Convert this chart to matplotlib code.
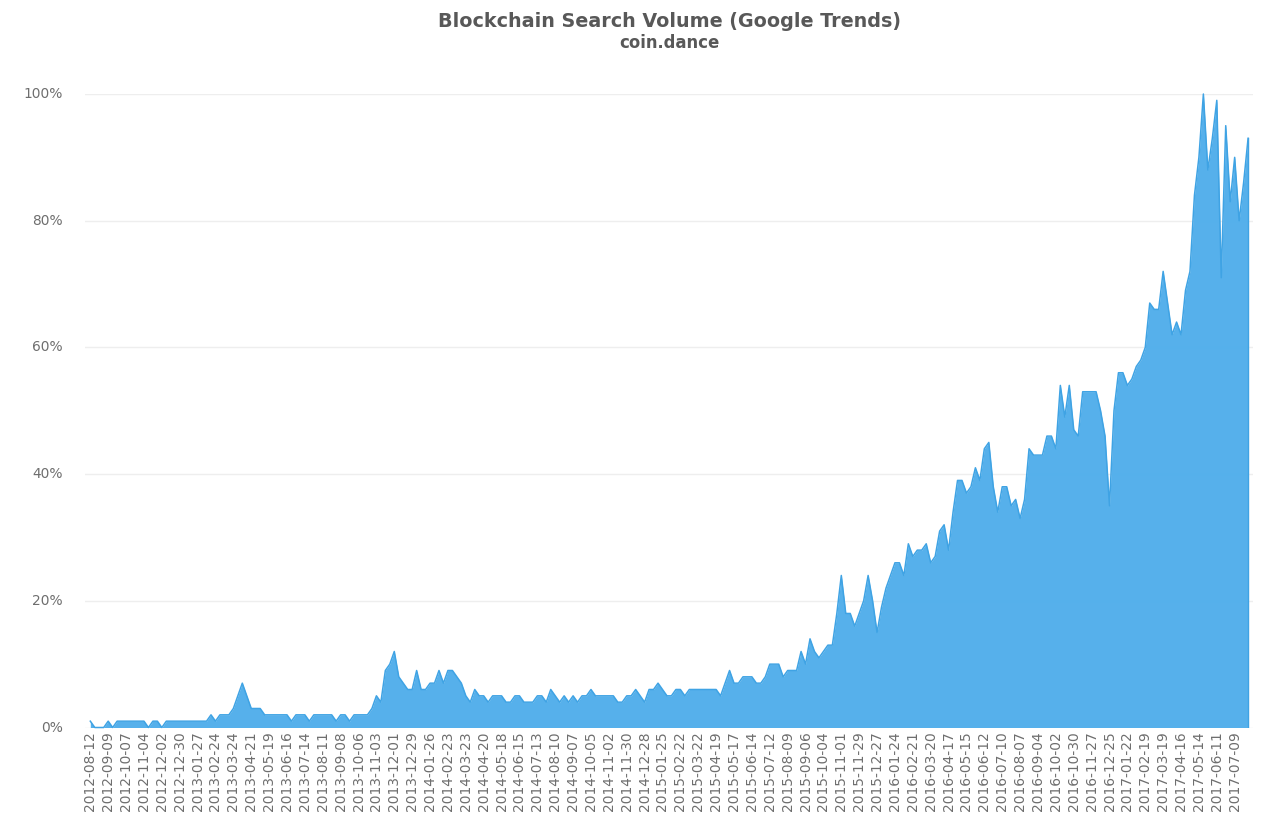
#!/usr/bin/env python3
"""Blockchain search volume (Google Trends), weekly, from coin.dance."""
import matplotlib
matplotlib.use("Agg")
import matplotlib.pyplot as plt
import numpy as np

TICK_LABELS = [
    "2012-08-12", "2012-09-09", "2012-10-07", "2012-11-04", "2012-12-02", "2012-12-30", "2013-01-27",
    "2013-02-24", "2013-03-24", "2013-04-21", "2013-05-19", "2013-06-16", "2013-07-14", "2013-08-11",
    "2013-09-08", "2013-10-06", "2013-11-03", "2013-12-01", "2013-12-29", "2014-01-26", "2014-02-23",
    "2014-03-23", "2014-04-20", "2014-05-18", "2014-06-15", "2014-07-13", "2014-08-10", "2014-09-07",
    "2014-10-05", "2014-11-02", "2014-11-30", "2014-12-28", "2015-01-25", "2015-02-22", "2015-03-22",
    "2015-04-19", "2015-05-17", "2015-06-14", "2015-07-12", "2015-08-09", "2015-09-06", "2015-10-04",
    "2015-11-01", "2015-11-29", "2015-12-27", "2016-01-24", "2016-02-21", "2016-03-20", "2016-04-17",
    "2016-05-15", "2016-06-12", "2016-07-10", "2016-08-07", "2016-09-04", "2016-10-02", "2016-10-30",
    "2016-11-27", "2016-12-25", "2017-01-22", "2017-02-19", "2017-03-19", "2017-04-16", "2017-05-14",
    "2017-06-11", "2017-07-09",
]
WEEKS_PER_TICK = 4

# weekly values, % of peak
VOLUME = [
    1, 0, 0, 0, 1, 0, 1, 1, 1, 1,
    1, 1, 1, 0, 1, 1, 0, 1, 1, 1,
    1, 1, 1, 1, 1, 1, 1, 2, 1, 2,
    2, 2, 3, 5, 7, 5, 3, 3, 3, 2,
    2, 2, 2, 2, 2, 1, 2, 2, 2, 1,
    2, 2, 2, 2, 2, 1, 2, 2, 1, 2,
    2, 2, 2, 3, 5, 4, 9, 10, 12, 8,
    7, 6, 6, 9, 6, 6, 7, 7, 9, 7,
    9, 9, 8, 7, 5, 4, 6, 5, 5, 4,
    5, 5, 5, 4, 4, 5, 5, 4, 4, 4,
    5, 5, 4, 6, 5, 4, 5, 4, 5, 4,
    5, 5, 6, 5, 5, 5, 5, 5, 4, 4,
    5, 5, 6, 5, 4, 6, 6, 7, 6, 5,
    5, 6, 6, 5, 6, 6, 6, 6, 6, 6,
    6, 5, 7, 9, 7, 7, 8, 8, 8, 7,
    7, 8, 10, 10, 10, 8, 9, 9, 9, 12,
    10, 14, 12, 11, 12, 13, 13, 18, 24,
    18, 18, 16, 18, 20, 24, 20, 15, 19, 22,
    24, 26, 26, 24, 29, 27, 28, 28, 29, 26,
    27, 31, 32, 28, 34, 39, 39, 37, 38, 41,
    39, 44, 45, 38, 34, 38, 38, 35, 36, 33,
    36, 44, 43, 43, 43, 46, 46, 44, 54, 49,
    54, 47, 46, 53, 53, 53, 53, 50, 46, 35,
    50, 56, 56, 54, 55, 57, 58, 60, 67, 66,
    66, 72, 67, 62, 64, 62, 69, 72, 84, 90,
    100, 88, 93, 99, 71, 95, 83, 90, 80, 86, 93,
]
Y_TICKS = [0, 20, 40, 60, 80, 100]

W, H = 1280, 840
TEXT = "#6e6e6e"
TITLE = "#585858"

plt.rcParams.update({"font.family": "DejaVu Sans", "font.size": 9.9})

fig = plt.figure(figsize=(W / 100, H / 100), dpi=100)
ax = fig.add_axes([85 / W, 1 - 727.5 / H, (1253 - 85) / W, (727.5 - 94) / H])

weeks = np.arange(len(VOLUME))
ax.fill_between(weeks, VOLUME, 0, color="#50aeeb", alpha=0.97, lw=0, zorder=2)
ax.plot(weeks, VOLUME, color="#3fa3e4", lw=1.1, zorder=3, clip_on=False)
ax.plot([weeks[-1], weeks[-1]], [0, VOLUME[-1]], color="#3fa3e4", lw=1, zorder=3)

ax.set_xlim(-1.19, 260.1)
ax.set_ylim(0, 100)
ax.set_xticks(np.arange(len(TICK_LABELS)) * WEEKS_PER_TICK)
ax.set_xticklabels(TICK_LABELS, rotation=90, color=TEXT)
ax.set_yticks(Y_TICKS)
ax.set_yticklabels([f"{v}%" for v in Y_TICKS], color=TEXT, va="center")
ax.tick_params(axis="x", length=0, pad=3)
ax.tick_params(axis="y", length=0, pad=16)
ax.grid(axis="y", color="#eeeeee", lw=1, zorder=1)
ax.set_axisbelow(True)
for s in ax.spines.values():
    s.set_visible(False)

fig.text(669 / W, 1 - 21.5 / H, "Blockchain Search Volume (Google Trends)", ha="center", va="center",
         fontsize=13.8, fontweight="bold", color=TITLE)
fig.text(669.5 / W, 1 - 43.5 / H, "coin.dance", ha="center", va="center",
         fontsize=11.9, fontweight="bold", color=TITLE)

fig.savefig("out.png", dpi=100)
